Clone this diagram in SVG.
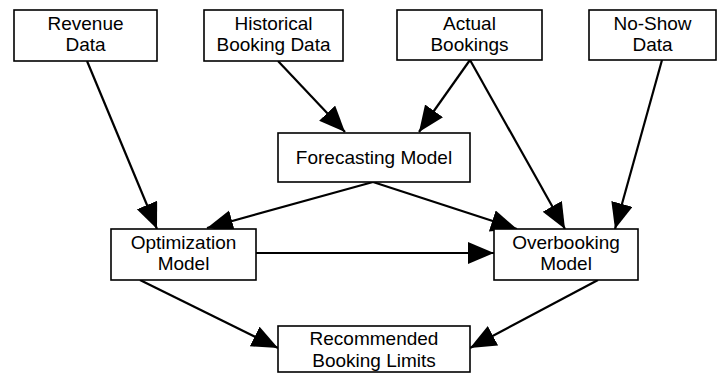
<svg xmlns="http://www.w3.org/2000/svg" width="724" height="373" viewBox="0 0 724 373">
<style>
.box{fill:#fff;stroke:#000;stroke-width:1.6}
.t{font-family:"Liberation Sans",Arial,sans-serif;font-size:19px;fill:#000;text-anchor:middle}
.c{stroke:#000;stroke-width:2.2;fill:none;marker-end:url(#ah)}
</style>
<defs>
<marker id="ah" markerUnits="userSpaceOnUse" markerWidth="28" markerHeight="24" refX="26" refY="11" orient="auto" viewBox="0 0 28 24">
<path d="M0,0 L26,11 L0,22 Z" fill="#000"/>
</marker>
</defs>
<rect width="724" height="373" fill="#fff"/>
<g id="connectors">
<line class="c" x1="87" y1="61" x2="157" y2="229"/>
<line class="c" x1="278" y1="61" x2="345" y2="132"/>
<line class="c" x1="470" y1="60" x2="419" y2="132"/>
<line class="c" x1="470" y1="60" x2="565" y2="229"/>
<line class="c" x1="662" y1="60" x2="615" y2="229"/>
<line class="c" x1="373" y1="182" x2="207" y2="228"/>
<line class="c" x1="373" y1="182" x2="517" y2="229"/>
<line class="c" x1="256" y1="253" x2="494" y2="253"/>
<line class="c" x1="140" y1="280" x2="278" y2="348"/>
<line class="c" x1="598" y1="280" x2="470" y2="348"/>
</g>
<g id="revenue">
<rect class="box" x="14" y="10" width="143" height="51"/>
<text class="t" x="85.5" y="30">Revenue</text>
<text class="t" x="85.5" y="51">Data</text>
</g>
<g id="historical">
<rect class="box" x="204" y="10" width="139" height="51"/>
<text class="t" x="273.5" y="30">Historical</text>
<text class="t" x="273.5" y="51">Booking Data</text>
</g>
<g id="actual">
<rect class="box" x="397" y="10" width="145" height="50"/>
<text class="t" x="469.5" y="30">Actual</text>
<text class="t" x="469.5" y="51">Bookings</text>
</g>
<g id="noshow">
<rect class="box" x="589" y="10" width="127" height="50"/>
<text class="t" x="652.5" y="30">No-Show</text>
<text class="t" x="652.5" y="51">Data</text>
</g>
<g id="forecasting">
<rect class="box" x="278" y="133" width="192" height="49"/>
<text class="t" x="374" y="164">Forecasting Model</text>
</g>
<g id="optimization">
<rect class="box" x="111" y="229" width="145" height="51"/>
<text class="t" x="183.5" y="249">Optimization</text>
<text class="t" x="183.5" y="270">Model</text>
</g>
<g id="overbooking">
<rect class="box" x="494" y="229" width="144" height="51"/>
<text class="t" x="566" y="249">Overbooking</text>
<text class="t" x="566" y="270">Model</text>
</g>
<g id="recommended">
<rect class="box" x="278" y="326" width="192" height="46"/>
<text class="t" x="374" y="345">Recommended</text>
<text class="t" x="374" y="367">Booking Limits</text>
</g>
</svg>
